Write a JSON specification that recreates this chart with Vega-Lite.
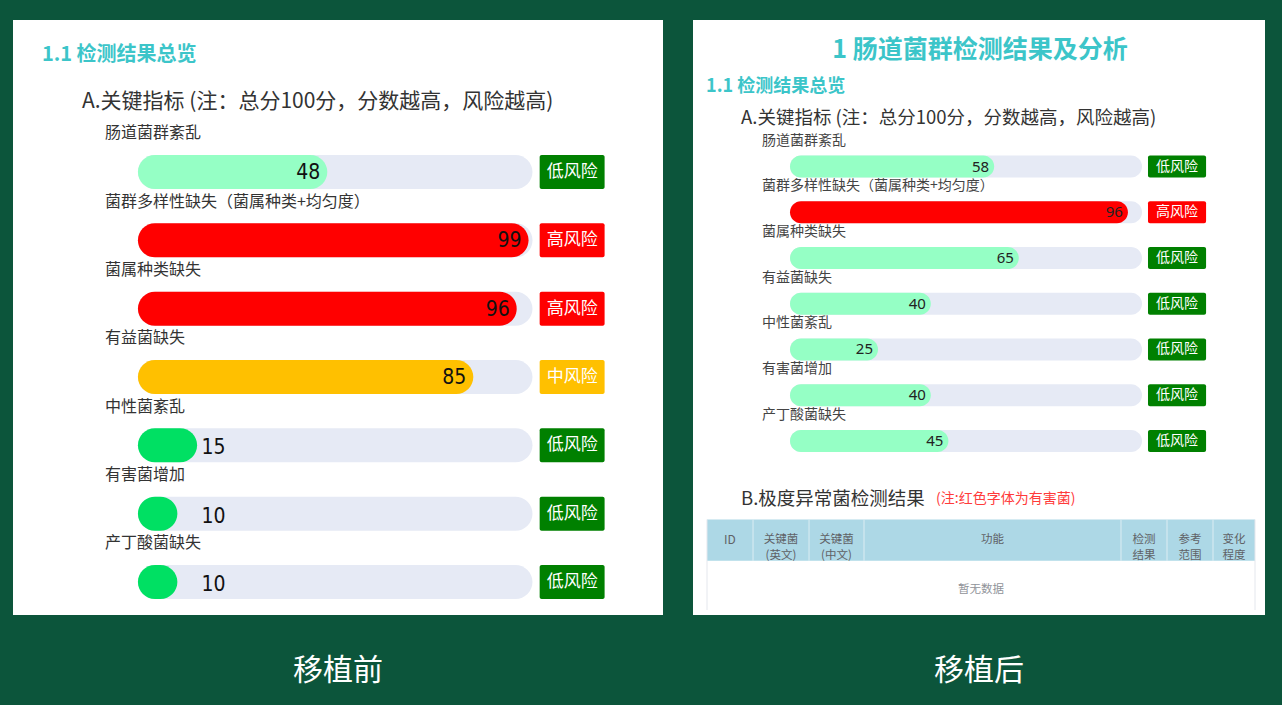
{
  "$schema": "https://vega.github.io/schema/vega-lite/v6.json",
  "background": "#0c553b",
  "padding": {"left": 13, "top": 20, "right": 20, "bottom": 40},
  "spacing": 30,
  "config": {
    "view": {"stroke": null, "fill": "#ffffff"},
    "font": "Noto Sans CJK SC",
    "title": {"color": "#ffffff", "fontSize": 30, "fontWeight": "normal", "font": "Noto Sans CJK SC"}
  },
  "datasets": {
    "移植前": [
      {"序号": 1, "指标": "肠道菌群紊乱", "得分": 48, "风险": "低风险"},
      {"序号": 2, "指标": "菌群多样性缺失（菌属种类+均匀度）", "得分": 99, "风险": "高风险"},
      {"序号": 3, "指标": "菌属种类缺失", "得分": 96, "风险": "高风险"},
      {"序号": 4, "指标": "有益菌缺失", "得分": 85, "风险": "中风险"},
      {"序号": 5, "指标": "中性菌紊乱", "得分": 15, "风险": "低风险"},
      {"序号": 6, "指标": "有害菌增加", "得分": 10, "风险": "低风险"},
      {"序号": 7, "指标": "产丁酸菌缺失", "得分": 10, "风险": "低风险"}
    ],
    "移植后": [
      {"序号": 1, "指标": "肠道菌群紊乱", "得分": 58, "风险": "低风险"},
      {"序号": 2, "指标": "菌群多样性缺失（菌属种类+均匀度）", "得分": 96, "风险": "高风险"},
      {"序号": 3, "指标": "菌属种类缺失", "得分": 65, "风险": "低风险"},
      {"序号": 4, "指标": "有益菌缺失", "得分": 40, "风险": "低风险"},
      {"序号": 5, "指标": "中性菌紊乱", "得分": 25, "风险": "低风险"},
      {"序号": 6, "指标": "有害菌增加", "得分": 40, "风险": "低风险"},
      {"序号": 7, "指标": "产丁酸菌缺失", "得分": 45, "风险": "低风险"}
    ]
  },
  "hconcat": [
    {
      "width": 650,
      "height": 595,
      "title": {"text": "移植前", "orient": "bottom", "anchor": "middle", "offset": 41},
      "data": {"name": "移植前"},
      "resolve": {"scale": {"color": "independent"}},
      "layer": [
        {
          "mark": {"type": "bar", "orient": "horizontal", "height": 34, "cornerRadius": 17, "color": "#e6eaf5"},
          "encoding": {
            "x": {"datum": 0, "type": "quantitative", "scale": {"domain": [-31.66, 133.08], "nice": false, "zero": false}, "axis": null},
            "x2": {"datum": 100},
            "y": {"field": "序号", "type": "quantitative", "scale": {"domain": [-1.151, 7.41], "reverse": true, "nice": false, "zero": false}, "axis": null}
          }
        },
        {
          "mark": {"type": "bar", "orient": "horizontal", "height": 34, "cornerRadius": 17},
          "encoding": {
            "x": {"field": "得分", "type": "quantitative"},
            "x2": {"datum": 0},
            "y": {"field": "序号", "type": "quantitative"},
            "color": {"field": "得分", "type": "quantitative", "scale": {"type": "threshold", "domain": [30, 60, 90], "range": ["#00e063", "#95ffc5", "#ffc000", "#ff0000"]}, "legend": null}
          }
        },
        {
          "transform": [{"filter": {"field": "得分", "gte": 24}}],
          "mark": {"type": "text", "align": "right", "baseline": "middle", "dx": -7, "dy": 1, "fontSize": 21, "font": "Liberation Sans Narrow, DejaVu Sans Condensed, Noto Sans", "color": "#111111"},
          "encoding": {
            "x": {"field": "得分", "type": "quantitative"},
            "y": {"field": "序号", "type": "quantitative"},
            "text": {"field": "得分", "type": "quantitative"}
          }
        },
        {
          "transform": [{"filter": {"field": "得分", "lt": 24}}],
          "mark": {"type": "text", "align": "right", "baseline": "middle", "dx": -7, "dy": 3, "fontSize": 21, "font": "Liberation Sans Narrow, DejaVu Sans Condensed, Noto Sans", "color": "#111111"},
          "encoding": {
            "x": {"datum": 24},
            "y": {"field": "序号", "type": "quantitative"},
            "text": {"field": "得分", "type": "quantitative"}
          }
        },
        {
          "mark": {"type": "text", "align": "left", "baseline": "middle", "dy": -38.5, "fontSize": 16, "color": "#333333"},
          "encoding": {
            "x": {"datum": -8.36},
            "y": {"field": "序号", "type": "quantitative"},
            "text": {"field": "指标"}
          }
        },
        {
          "mark": {"type": "bar", "orient": "horizontal", "height": 34, "cornerRadius": 2},
          "encoding": {
            "x": {"datum": 101.82},
            "x2": {"datum": 118.28},
            "y": {"field": "序号", "type": "quantitative"},
            "color": {"field": "风险", "type": "nominal", "scale": {"domain": ["低风险", "中风险", "高风险"], "range": ["#008000", "#ffc000", "#ff0000"]}, "legend": null}
          }
        },
        {
          "mark": {"type": "text", "align": "center", "baseline": "middle", "fontSize": 17, "color": "#ffffff"},
          "encoding": {
            "x": {"datum": 110.05},
            "y": {"field": "序号", "type": "quantitative"},
            "text": {"field": "风险"}
          }
        },
        {
          "data": {"values": [{}]},
          "mark": {"type": "text", "align": "left", "baseline": "middle", "fontSize": 20, "fontWeight": "bold", "color": "#3cc5c9"},
          "encoding": {
            "x": {"datum": -24.32},
            "y": {"datum": -0.712},
            "text": {"value": "1.1 检测结果总览"}
          }
        },
        {
          "data": {"values": [{}]},
          "mark": {"type": "text", "align": "left", "baseline": "middle", "fontSize": 21, "color": "#333333"},
          "encoding": {
            "x": {"datum": -14.18},
            "y": {"datum": -0.029},
            "text": {"value": "A.关键指标 (注：总分100分，分数越高，风险越高)"}
          }
        }
      ]
    },
    {
      "width": 572,
      "height": 595,
      "title": {"text": "移植后", "orient": "bottom", "anchor": "middle", "offset": 41},
      "data": {"name": "移植后"},
      "resolve": {"scale": {"color": "independent"}},
      "layer": [
        {
          "data": {"values": [{}]},
          "mark": {"type": "rect", "color": "#add8e6"},
          "encoding": {
            "x": {"datum": -23.58, "type": "quantitative", "scale": {"domain": [-27.56, 134.94], "nice": false, "zero": false}, "axis": null},
            "x2": {"datum": 132.1},
            "y": {"datum": 8.72, "type": "quantitative", "scale": {"domain": [-2.097, 10.699], "reverse": true, "nice": false, "zero": false}, "axis": null},
            "y2": {"datum": 9.624}
          }
        },
        {
          "data": {"values": [{}]},
          "mark": {"type": "rule", "color": "#e4e7ed", "strokeWidth": 1},
          "encoding": {"x": {"datum": -23.58}, "y": {"datum": 8.72}, "y2": {"datum": 10.699}}
        },
        {
          "data": {"values": [{}]},
          "mark": {"type": "rule", "color": "#e4e7ed", "strokeWidth": 1},
          "encoding": {"x": {"datum": 132.1}, "y": {"datum": 8.72}, "y2": {"datum": 10.699}}
        },
        {
          "data": {"values": [{}]},
          "mark": {"type": "rule", "color": "#dcedf3", "strokeWidth": 1},
          "encoding": {"x": {"datum": -10.51}, "y": {"datum": 8.72}, "y2": {"datum": 9.624}}
        },
        {
          "data": {"values": [{}]},
          "mark": {"type": "rule", "color": "#dcedf3", "strokeWidth": 1},
          "encoding": {"x": {"datum": 5.4}, "y": {"datum": 8.72}, "y2": {"datum": 9.624}}
        },
        {
          "data": {"values": [{}]},
          "mark": {"type": "rule", "color": "#dcedf3", "strokeWidth": 1},
          "encoding": {"x": {"datum": 21.02}, "y": {"datum": 8.72}, "y2": {"datum": 9.624}}
        },
        {
          "data": {"values": [{}]},
          "mark": {"type": "rule", "color": "#dcedf3", "strokeWidth": 1},
          "encoding": {"x": {"datum": 94.03}, "y": {"datum": 8.72}, "y2": {"datum": 9.624}}
        },
        {
          "data": {"values": [{}]},
          "mark": {"type": "rule", "color": "#dcedf3", "strokeWidth": 1},
          "encoding": {"x": {"datum": 107.1}, "y": {"datum": 8.72}, "y2": {"datum": 9.624}}
        },
        {
          "data": {"values": [{}]},
          "mark": {"type": "rule", "color": "#dcedf3", "strokeWidth": 1},
          "encoding": {"x": {"datum": 120.17}, "y": {"datum": 8.72}, "y2": {"datum": 9.624}}
        },
        {
          "data": {"values": [{}]},
          "mark": {"type": "text", "align": "center", "baseline": "middle", "fontSize": 12, "color": "#606266"},
          "encoding": {"x": {"datum": -17.05}, "y": {"datum": 9.172}, "text": {"value": "ID"}}
        },
        {
          "data": {"values": [{}]},
          "mark": {"type": "text", "align": "center", "baseline": "middle", "fontSize": 11.5, "lineHeight": 16, "color": "#606266"},
          "encoding": {"x": {"datum": -2.56}, "y": {"datum": 9.172}, "text": {"value": ["关键菌", "(英文)"]}}
        },
        {
          "data": {"values": [{}]},
          "mark": {"type": "text", "align": "center", "baseline": "middle", "fontSize": 11.5, "lineHeight": 16, "color": "#606266"},
          "encoding": {"x": {"datum": 13.2}, "y": {"datum": 9.172}, "text": {"value": ["关键菌", "(中文)"]}}
        },
        {
          "data": {"values": [{}]},
          "mark": {"type": "text", "align": "center", "baseline": "middle", "fontSize": 11.5, "color": "#606266"},
          "encoding": {"x": {"datum": 57.53}, "y": {"datum": 9.172}, "text": {"value": "功能"}}
        },
        {
          "data": {"values": [{}]},
          "mark": {"type": "text", "align": "center", "baseline": "middle", "fontSize": 11.5, "lineHeight": 16, "color": "#606266"},
          "encoding": {"x": {"datum": 100.57}, "y": {"datum": 9.172}, "text": {"value": ["检测", "结果"]}}
        },
        {
          "data": {"values": [{}]},
          "mark": {"type": "text", "align": "center", "baseline": "middle", "fontSize": 11.5, "lineHeight": 16, "color": "#606266"},
          "encoding": {"x": {"datum": 113.64}, "y": {"datum": 9.172}, "text": {"value": ["参考", "范围"]}}
        },
        {
          "data": {"values": [{}]},
          "mark": {"type": "text", "align": "center", "baseline": "middle", "fontSize": 11.5, "lineHeight": 16, "color": "#606266"},
          "encoding": {"x": {"datum": 126.1}, "y": {"datum": 9.172}, "text": {"value": ["变化", "程度"]}}
        },
        {
          "data": {"values": [{}]},
          "mark": {"type": "text", "align": "center", "baseline": "middle", "fontSize": 11.5, "color": "#909399"},
          "encoding": {"x": {"datum": 54.26}, "y": {"datum": 10.269}, "text": {"value": "暂无数据"}}
        },
        {
          "mark": {"type": "bar", "orient": "horizontal", "height": 22, "cornerRadius": 11, "color": "#e6eaf5"},
          "encoding": {
            "x": {"datum": 0},
            "x2": {"datum": 100},
            "y": {"field": "序号", "type": "quantitative"}
          }
        },
        {
          "mark": {"type": "bar", "orient": "horizontal", "height": 22, "cornerRadius": 11},
          "encoding": {
            "x": {"field": "得分", "type": "quantitative"},
            "x2": {"datum": 0},
            "y": {"field": "序号", "type": "quantitative"},
            "color": {"field": "风险", "type": "nominal", "scale": {"domain": ["低风险", "高风险"], "range": ["#95ffc5", "#ff0000"]}, "legend": null}
          }
        },
        {
          "mark": {"type": "text", "align": "right", "baseline": "middle", "dx": -5, "dy": 0, "fontSize": 15, "font": "Noto Sans", "color": "#222222"},
          "encoding": {
            "x": {"field": "得分", "type": "quantitative"},
            "y": {"field": "序号", "type": "quantitative"},
            "text": {"field": "得分", "type": "quantitative"}
          }
        },
        {
          "mark": {"type": "text", "align": "left", "baseline": "middle", "dy": -26, "fontSize": 14, "color": "#444444"},
          "encoding": {
            "x": {"datum": -7.95},
            "y": {"field": "序号", "type": "quantitative"},
            "text": {"field": "指标"}
          }
        },
        {
          "mark": {"type": "bar", "orient": "horizontal", "height": 22, "cornerRadius": 2},
          "encoding": {
            "x": {"datum": 101.7},
            "x2": {"datum": 118.2},
            "y": {"field": "序号", "type": "quantitative"},
            "color": {"field": "风险", "type": "nominal", "scale": {"domain": ["低风险", "高风险"], "range": ["#008000", "#ff0000"]}, "legend": null}
          }
        },
        {
          "mark": {"type": "text", "align": "center", "baseline": "middle", "fontSize": 14, "color": "#ffffff"},
          "encoding": {
            "x": {"datum": 109.95},
            "y": {"field": "序号", "type": "quantitative"},
            "text": {"field": "风险"}
          }
        },
        {
          "data": {"values": [{}]},
          "mark": {"type": "text", "align": "center", "baseline": "middle", "fontSize": 25, "fontWeight": "bold", "color": "#3cc5c9"},
          "encoding": {"x": {"datum": 53.98}, "y": {"datum": -1.56}, "text": {"value": "1 肠道菌群检测结果及分析"}}
        },
        {
          "data": {"values": [{}]},
          "mark": {"type": "text", "align": "left", "baseline": "middle", "fontSize": 18, "fontWeight": "bold", "color": "#3cc5c9"},
          "encoding": {"x": {"datum": -23.86}, "y": {"datum": -0.74}, "text": {"value": "1.1 检测结果总览"}}
        },
        {
          "data": {"values": [{}]},
          "mark": {"type": "text", "align": "left", "baseline": "middle", "fontSize": 18.5, "color": "#333333"},
          "encoding": {"x": {"datum": -13.92}, "y": {"datum": -0.06}, "text": {"value": "A.关键指标 (注：总分100分，分数越高，风险越高)"}}
        },
        {
          "data": {"values": [{}]},
          "mark": {"type": "text", "align": "left", "baseline": "middle", "fontSize": 18.5, "color": "#333333"},
          "encoding": {"x": {"datum": -13.92}, "y": {"datum": 8.28}, "text": {"value": "B.极度异常菌检测结果"}}
        },
        {
          "data": {"values": [{}]},
          "mark": {"type": "text", "align": "left", "baseline": "middle", "fontSize": 14, "color": "#ff3b3b"},
          "encoding": {"x": {"datum": 41.48}, "y": {"datum": 8.28}, "text": {"value": "(注:红色字体为有害菌)"}}
        }
      ]
    }
  ]
}
